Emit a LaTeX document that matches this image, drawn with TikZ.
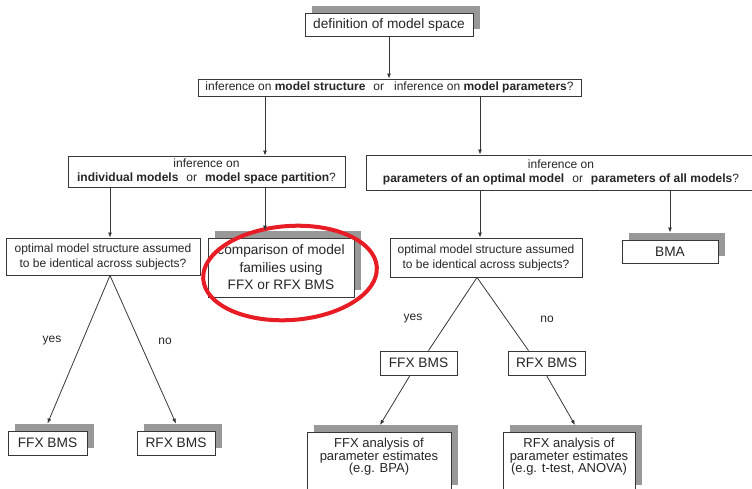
\documentclass[tikz,border=0pt]{standalone}
\usepackage{fontspec}
\setmainfont{Liberation Sans}
\usetikzlibrary{arrows.meta,shadows}
\definecolor{shadowgray}{RGB}{152,152,152}
\definecolor{linegray}{RGB}{55,55,55}
\definecolor{circred}{RGB}{232,28,36}
\begin{document}
\begin{tikzpicture}[x=1pt,y=-1pt,
  box/.style={draw=linegray, line width=0.9pt, fill=white, inner sep=0pt, align=center,
    text=black!85, font=\fontsize{12}{14.5}\selectfont},
  shbox/.style={box, general shadow={fill=shadowgray, shadow xshift=7pt, shadow yshift=7pt}},
  bigtxt/.style={font=\fontsize{13.7}{17.5}\selectfont},
  conn/.style={draw=linegray, line width=0.8pt},
  arr/.style={conn, -{Latex[length=5pt,width=4pt]}},
  lbl/.style={inner sep=0pt, font=\fontsize{12}{14}\selectfont, text=black!85},
]
\useasboundingbox (0,0) rectangle (752,488);

% boxes
\node[shbox, bigtxt, minimum width=168pt, minimum height=23pt] (top) at (389,24.5) {definition of model space};
\node[box, minimum width=383pt, minimum height=17pt] (q1) at (389.5,87.5)
  {inference on \textbf{model structure}\hspace{8pt}or\hspace{10pt}inference on \textbf{model parameters}?};
\node[box, minimum width=277pt, minimum height=31pt] (q2L) at (206.5,171.5)
  {inference on\\\textbf{individual models}\hspace{8pt}or\hspace{8pt}\textbf{model space partition}?};
\node[box, minimum width=390pt, minimum height=35pt] (q2R) at (561,172.5)
  {inference on\\\textbf{parameters of an optimal model}\hspace{8pt}or\hspace{8pt}\textbf{parameters of all models}?};
\node[box, font=\fontsize{12}{15}\selectfont, minimum width=194pt, minimum height=37pt] (q3L) at (103,256.5)
  {optimal model structure assumed\\to be identical across subjects?};
\node[shbox, bigtxt, minimum width=146pt, minimum height=59pt] (comp) at (281,267.5)
  {comparison of model\\families using\\FFX or RFX BMS};
\node[box, font=\fontsize{12}{15}\selectfont, minimum width=192pt, minimum height=39pt] (q3R) at (486,257.5)
  {optimal model structure assumed\\to be identical across subjects?};
\node[shbox, bigtxt, minimum width=96pt, minimum height=23pt] (bma) at (670,251.5) {BMA};

\node[shbox, bigtxt, minimum width=79pt, minimum height=24pt] (ffxl) at (47.5,443) {FFX BMS};
\node[shbox, bigtxt, minimum width=78pt, minimum height=24pt] (rfxl) at (176,443) {RFX BMS};
\node[box, bigtxt, minimum width=77pt, minimum height=24pt] (ffxr) at (418.5,363) {FFX BMS};
\node[box, bigtxt, minimum width=77pt, minimum height=24pt] (rfxr) at (546.5,363) {RFX BMS};

\node[shbox, anchor=north, minimum width=144pt, minimum height=60pt] (ffxa) at (379,432)
  {\parbox[c][48pt][t]{140pt}{\fontsize{13}{12.5}\selectfont\centering FFX analysis of\\parameter estimates\\(e.g. BPA)}};
\node[shbox, anchor=north, minimum width=132pt, minimum height=60pt] (rfxa) at (569,432)
  {\parbox[c][48pt][t]{130pt}{\fontsize{13}{12.5}\selectfont\centering RFX analysis of\\parameter estimates\\(e.g. t-test, ANOVA)}};

% red ellipse
\draw[circred, line width=4pt] (290,273) ellipse [x radius=87, y radius=47, rotate=4];

% helper coordinates
\coordinate (xa) at (265,0);
\coordinate (xb) at (480,0);
\coordinate (xc) at (110,0);
\coordinate (compTop) at ([yshift=7pt]comp.north);
\coordinate (bmaTop) at ([yshift=7pt]bma.north);
\coordinate (ffxlTop) at ([yshift=7pt]ffxl.north);
\coordinate (rfxlTop) at ([yshift=7pt]rfxl.north);
\coordinate (ffxaTop) at ([xshift=1pt,yshift=7pt]ffxa.north);
\coordinate (rfxaTop) at ([xshift=6pt,yshift=7pt]rfxa.north);

% connectors
\draw[arr] (top.south) -- (top.south |- q1.north);
\draw[arr] (q1.south -| xa) -- (q2L.north -| xa);
\draw[arr] (q1.south -| xb) -- (q2R.north -| xb);
\draw[arr] (q2L.south -| xc) -- (q3L.north -| xc);
\draw[arr] (q2L.south -| xa) -- (compTop -| xa);
\draw[arr] (q2R.south -| xb) -- (q3R.north -| xb);
\draw[arr] (q2R.south -| bma.north) -- (bmaTop);

\draw[arr] (q3L.south -| xc) -- (ffxlTop);
\draw[arr] (q3L.south -| xc) -- (rfxlTop);
\draw[conn] ([xshift=-9pt]q3R.south) -- ([xshift=10pt]ffxr.north);
\draw[conn] ([xshift=-9pt]q3R.south) -- ([xshift=-18pt]rfxr.north);
\draw[arr] ([xshift=-8.5pt]ffxr.south) -- (ffxaTop);
\draw[arr] (rfxr.south) -- (rfxaTop);

% labels
\node[lbl] (yesL) at (52,341) {yes};
\node[lbl] (noL) at (165,341) {no};
\node[lbl] (yesR) at (413,319) {yes};
\node[lbl] (noR) at (547,319) {no};
\end{tikzpicture}
\end{document}
